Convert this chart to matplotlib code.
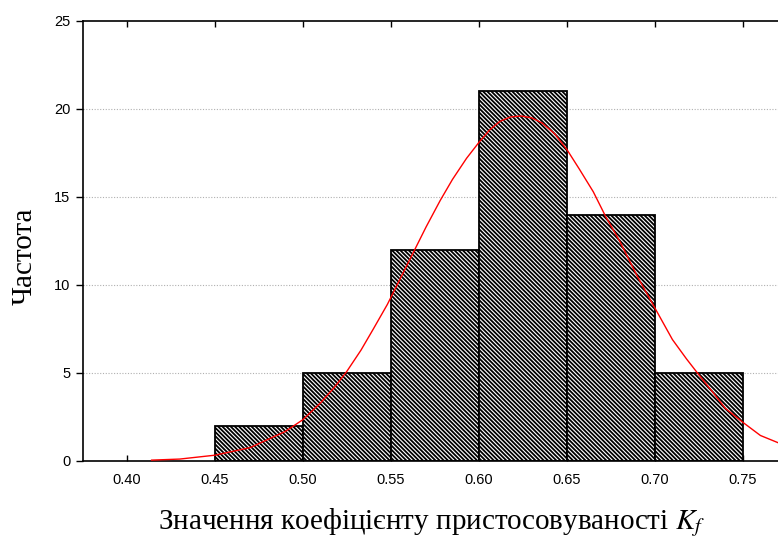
import numpy as np
import matplotlib
matplotlib.use('Agg')
import matplotlib.pyplot as plt

# Histogram data (bin edges and counts)
bin_edges = [0.45, 0.50, 0.55, 0.60, 0.65, 0.70, 0.75]
counts = [2, 5, 12, 21, 14, 5]

# Fitted normal curve
curve_x = [0.414, 0.43, 0.45, 0.47, 0.49, 0.50, 0.51, 0.518, 0.525, 0.533,
           0.54, 0.548, 0.555, 0.563, 0.57, 0.578, 0.585, 0.593, 0.60, 0.606,
           0.612, 0.618, 0.624, 0.630, 0.636, 0.643, 0.65, 0.657, 0.665, 0.672,
           0.68, 0.69, 0.70, 0.71, 0.718, 0.725, 0.733, 0.74, 0.75, 0.76, 0.771]
curve_y = [0.05, 0.11, 0.33, 0.76, 1.68, 2.35, 3.3, 4.2, 5.1, 6.3,
           7.5, 8.9, 10.3, 11.9, 13.3, 14.8, 16.0, 17.2, 18.1, 18.8,
           19.3, 19.55, 19.6, 19.5, 19.2, 18.6, 17.7, 16.6, 15.3, 13.9,
           12.5, 10.5, 8.7, 6.9, 5.8, 4.9, 3.9, 3.0, 2.2, 1.45, 1.0]

xticks = [0.40, 0.45, 0.50, 0.55, 0.60, 0.65, 0.70, 0.75]
yticks = [0, 5, 10, 15, 20, 25]

plt.rcParams['hatch.linewidth'] = 1.3
plt.rcParams['mathtext.fontset'] = 'stix'

fig = plt.figure(figsize=(7.78, 5.41), dpi=100)
ax = fig.add_axes([83/778, 80/541, (778 - 83)/778, 440/541])

widths = np.diff(bin_edges)
ax.bar(bin_edges[:-1], counts, width=widths, align='edge',
       facecolor='white', edgecolor='black', linewidth=1.3,
       hatch='\\' * 8, zorder=2)

ax.plot(curve_x, curve_y, color='red', linewidth=1.0, zorder=3)

ax.set_xlim(0.375, 0.77)
ax.set_ylim(0, 25)
ax.set_xticks(xticks)
ax.set_xticklabels([f'{v:.2f}' for v in xticks])
ax.set_yticks(yticks)

# Grid - dotted gray horizontal lines
for y in yticks[1:-1]:
    ax.axhline(y, color='#b0b0b0', linestyle=(0, (1, 1.5)), linewidth=0.8, zorder=1)

ax.spines['right'].set_visible(False)
for s in ['left', 'bottom', 'top']:
    ax.spines[s].set_linewidth(1.2)

ax.tick_params(axis='x', direction='in', length=4, width=1, top=True,
               labelsize=10.5, pad=9)
ax.tick_params(axis='y', direction='out', length=5, width=1,
               labelsize=10.5, pad=4)
for lbl in ax.get_xticklabels() + ax.get_yticklabels():
    lbl.set_family(['Liberation Sans', 'DejaVu Sans'])

ax.set_ylabel('Частота', family='Liberation Serif', fontsize=21,
              va='center', ha='center')
ax.yaxis.set_label_coords(-0.0835, 0.466)
ax.set_xlabel('Значення коефіцієнту пристосовуваності $K_f$',
              family='Liberation Serif', fontsize=21, va='center', ha='center')
ax.xaxis.set_label_coords(0.501, -0.141)

fig.savefig('out.png', dpi=100)
